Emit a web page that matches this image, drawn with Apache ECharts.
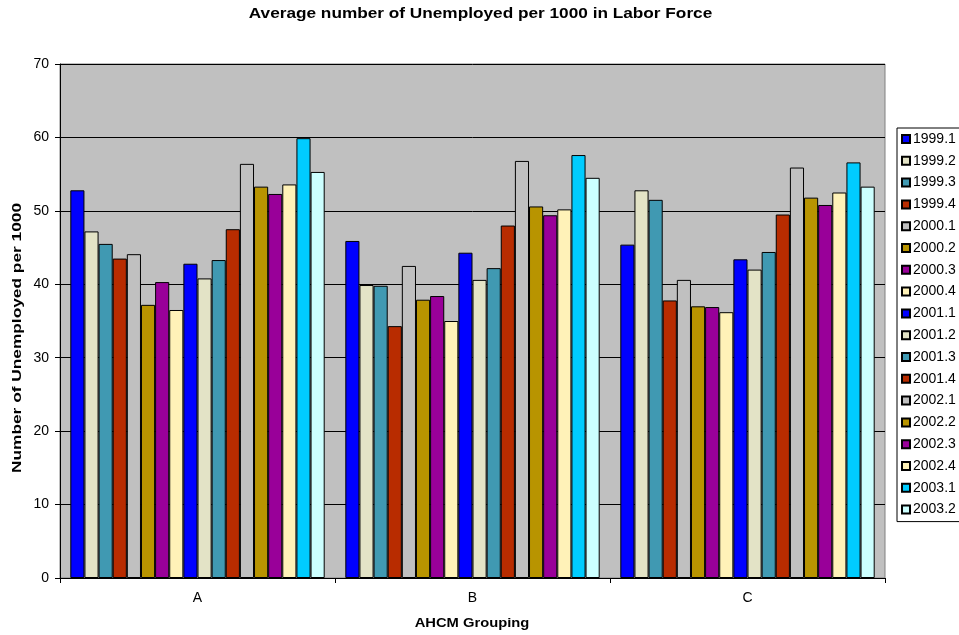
<!DOCTYPE html>
<html>
<head>
<meta charset="utf-8">
<script src="https://cdn.jsdelivr.net/npm/echarts@6/dist/echarts.min.js"></script>
<style>
  html, body { margin: 0; padding: 0; background: #fff; }
  #chart { width: 959px; height: 635px; }
</style>
</head>
<body>
<div id="chart"></div>
<script>
// AHCM groups along the category axis
const groups = ['A', 'B', 'C'];

// Quarter series names (legend order)
const quarters = [
  '1999.1', '1999.2', '1999.3', '1999.4',
  '2000.1', '2000.2', '2000.3', '2000.4',
  '2001.1', '2001.2', '2001.3', '2001.4',
  '2002.1', '2002.2', '2002.3', '2002.4',
  '2003.1', '2003.2'
];

// Average unemployed per 1000 in labor force, one array per quarter: [A, B, C]
const q1999_1 = [52.8, 45.9, 45.4];
const q1999_2 = [47.2, 39.9, 52.8];
const q1999_3 = [45.5, 39.8, 51.5];
const q1999_4 = [43.5, 34.3, 37.8];
const q2000_1 = [44.1, 42.5, 40.6];
const q2000_2 = [37.2, 37.9, 37.0];
const q2000_3 = [40.3, 38.4, 36.9];
const q2000_4 = [36.5, 35.0, 36.2];
const q2001_1 = [42.8, 44.3, 43.4];
const q2001_2 = [40.8, 40.6, 42.0];
const q2001_3 = [43.3, 42.2, 44.4];
const q2001_4 = [47.5, 48.0, 49.5];
const q2002_1 = [56.4, 56.8, 55.9];
const q2002_2 = [53.3, 50.6, 51.8];
const q2002_3 = [52.3, 49.4, 50.8];
const q2002_4 = [53.6, 50.2, 52.5];
const q2003_1 = [59.9, 57.6, 56.6];
const q2003_2 = [55.3, 54.5, 53.3];

const seriesValues = [
  q1999_1, q1999_2, q1999_3, q1999_4,
  q2000_1, q2000_2, q2000_3, q2000_4,
  q2001_1, q2001_2, q2001_3, q2001_4,
  q2002_1, q2002_2, q2002_3, q2002_4,
  q2003_1, q2003_2
];

// Y axis ticks
const yMin = 0, yMax = 70, yStep = 10;

// Fill colours per quarter
const colors = [
  '#0000ff', '#e3e3c6', '#4099b2', '#b82c00',
  '#c0c0c0', '#b89400', '#990099', '#fff2b8',
  '#0000ff', '#e3e3c6', '#4099b2', '#b82c00',
  '#c0c0c0', '#b89400', '#990099', '#fff2b8',
  '#00ccff', '#ccffff'
];

const font = 'Liberation Sans, Arial, sans-serif';
const boldFont = 'bold 14px Liberation Sans, Arial, sans-serif';
const boldFontSmall = 'bold 12.5px Liberation Sans, Arial, sans-serif';

const chart = echarts.init(document.getElementById('chart'), null, { renderer: 'canvas' });

chart.setOption({
  animation: false,
  backgroundColor: '#ffffff',
  // Title and axis captions, drawn slightly widened along the text direction
  graphic: [
    {
      type: 'text',
      x: 480.5, y: 14,
      scaleX: 1.23,
      style: {
        text: 'Average number of Unemployed per 1000 in Labor Force',
        font: boldFont, fill: '#000',
        textAlign: 'center', textVerticalAlign: 'middle'
      }
    },
    {
      type: 'text',
      x: 17, y: 338,
      rotation: Math.PI / 2,
      scaleX: 1.33,
      style: {
        text: 'Number of Unemployed per 1000',
        font: 'bold 13px Liberation Sans, Arial, sans-serif', fill: '#000',
        textAlign: 'center', textVerticalAlign: 'middle'
      }
    },
    {
      type: 'text',
      x: 472, y: 624,
      scaleX: 1.18,
      style: {
        text: 'AHCM Grouping',
        font: boldFontSmall, fill: '#000',
        textAlign: 'center', textVerticalAlign: 'middle'
      }
    }
  ],
  legend: {
    orient: 'vertical',
    left: 897,
    top: 128,
    padding: [4, 20, 5, 4],
    itemWidth: 8,
    itemHeight: 8,
    itemGap: 7.8,
    icon: 'rect',
    borderColor: '#000',
    borderWidth: 1,
    backgroundColor: '#fff',
    textStyle: { fontFamily: font, fontSize: 14, color: '#000', padding: [0, 0, 0, -2] },
    data: quarters
  },
  grid: {
    left: 60,
    right: 74,
    top: 64,
    bottom: 57,
    show: true,
    backgroundColor: '#c0c0c0',
    borderColor: '#808080',
    borderWidth: 1
  },
  xAxis: {
    type: 'category',
    data: groups,
    axisLine: { lineStyle: { color: '#000', width: 1 } },
    axisTick: { show: true, alignWithLabel: false, length: 5, lineStyle: { color: '#000' } },
    axisLabel: { fontFamily: font, fontSize: 14, color: '#000', margin: 13 },
    splitLine: { show: false }
  },
  yAxis: {
    type: 'value',
    min: yMin,
    max: yMax,
    interval: yStep,
    axisLine: { show: true, lineStyle: { color: '#000', width: 1 } },
    axisTick: { show: true, inside: false, length: 5, lineStyle: { color: '#000' } },
    axisLabel: { fontFamily: font, fontSize: 14, color: '#000', margin: 11 },
    splitLine: { show: true, lineStyle: { color: '#000', width: 1 } }
  },
  series: quarters.map((name, i) => ({
    name: name,
    type: 'bar',
    data: seriesValues[i],
    barGap: '0%',
    barCategoryGap: '7.5%',
    itemStyle: { color: colors[i], borderColor: '#000', borderWidth: 1 }
  }))
});
</script>
</body>
</html>
